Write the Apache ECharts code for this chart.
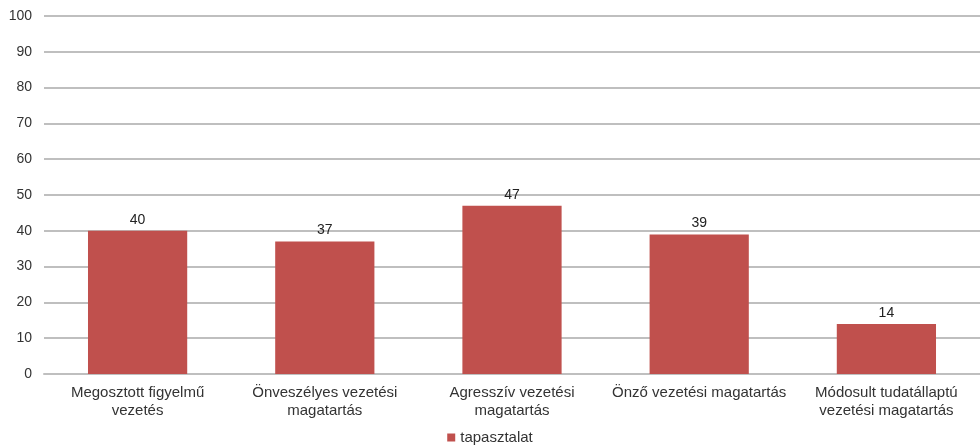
<!DOCTYPE html>
<html><head><meta charset="utf-8">
<script src="https://cdn.jsdelivr.net/npm/echarts@6/dist/echarts.min.js"></script>
<style>html,body{margin:0;padding:0;background:#fff}#c{width:980px;height:446px}</style>
</head><body><div id="c"></div>
<script>
const categories = ['Megosztott figyelmű\nvezetés', 'Önveszélyes vezetési\nmagatartás', 'Agresszív vezetési\nmagatartás', 'Önző vezetési magatartás', 'Módosult tudatállaptú\nvezetési magatartás'];
const values = [40, 37, 47, 39, 14];
const seriesName = 'tapasztalat';
const chart = echarts.init(document.getElementById('c'));
chart.setOption({
  animation: false,
  textStyle: {fontFamily: 'Liberation Sans, Arial, sans-serif'},
  grid: {left: 44, right: 0, top: 16, bottom: 72},
  legend: {top: 425, left: 'center', itemWidth: 8, itemHeight: 8, icon: 'rect', itemGap: 4,
    textStyle: {fontSize: 15, color: '#333'}, data: [seriesName]},
  xAxis: {type: 'category', data: categories,
    axisLine: {lineStyle: {color: '#BFBFBF', width: 2}}, axisTick: {show: false},
    axisLabel: {fontSize: 15, color: '#333', interval: 0, margin: 10, lineHeight: 18}},
  yAxis: {type: 'value', min: 0, max: 100, interval: 10,
    axisLine: {show: false}, axisTick: {show: false},
    axisLabel: {fontSize: 14, color: '#333', margin: 12},
    splitLine: {lineStyle: {color: '#BFBFBF', width: 2}}},
  series: [{name: seriesName, type: 'bar', data: values, barWidth: '53%',
    itemStyle: {color: '#C0504D'},
    label: {show: true, position: 'top', fontSize: 14, color: '#222', distance: 4}}]
});
</script></body></html>
